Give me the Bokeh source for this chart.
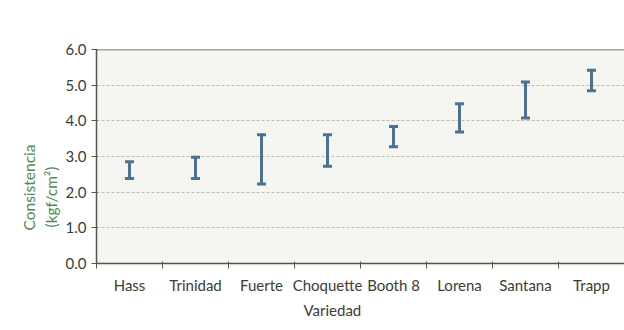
from bokeh.plotting import figure
from bokeh.models import (Range1d, FixedTicker, Whisker, TeeHead, ColumnDataSource,
                          Span, Title)
from bokeh.embed import file_html
from bokeh.resources import INLINE

categories = ["Hass", "Trinidad", "Fuerte", "Choquette", "Booth 8", "Lorena", "Santana", "Trapp"]
lower = [2.38, 2.38, 2.23, 2.73, 3.27, 3.69, 4.08, 4.84]
upper = [2.85, 2.98, 3.61, 3.61, 3.84, 4.48, 5.09, 5.42]
y_ticks = [0, 1, 2, 3, 4, 5, 6]

FONT = "Lato"
BAR = "#4b7193"
AXIS = "#55554d"
GREEN = "#4f8a55"

xs = [i + 0.5 for i in range(len(categories))]
src = ColumnDataSource(dict(x=xs, lower=lower, upper=upper))

p = figure(width=624, height=330, output_backend="svg", toolbar_location=None,
           x_range=Range1d(0, len(categories)), y_range=Range1d(0, 6))
p.min_border_left = 96
p.min_border_right = 0
p.min_border_top = 49
p.min_border_bottom = 67
p.background_fill_color = "#f5f5f1"
p.border_fill_color = "white"
p.outline_line_color = None

# x axis: labels at centers, ticks at category boundaries
p.xaxis.ticker = FixedTicker(ticks=xs, minor_ticks=list(range(0, len(categories) + 1)))
p.xaxis.major_label_overrides = {x: c for x, c in zip(xs, categories)}
p.xaxis.major_tick_line_color = None
p.xaxis.major_tick_out = 0
p.xaxis.major_tick_in = 0
p.xaxis.minor_tick_out = 5
p.xaxis.minor_tick_in = 2
p.xaxis.minor_tick_line_color = AXIS
p.xaxis.axis_line_color = AXIS
p.xaxis.axis_line_width = 1.5
p.xaxis.major_label_standoff = 7
p.xaxis.major_label_text_font = FONT
p.xaxis.major_label_text_font_size = "15px"
p.xaxis.major_label_text_color = "#3c3c38"

p.yaxis.ticker = FixedTicker(ticks=y_ticks, minor_ticks=[])
p.yaxis.major_label_overrides = {t: f"{t:.1f}" for t in y_ticks}
p.yaxis.major_tick_out = 5
p.yaxis.major_tick_in = 1
p.yaxis.major_tick_line_color = AXIS
p.yaxis.axis_line_color = AXIS
p.yaxis.axis_line_width = 1.5
p.yaxis.major_label_standoff = 5
p.yaxis.major_label_text_font = FONT
p.yaxis.major_label_text_font_size = "15px"
p.yaxis.major_label_text_color = "#3c3c38"

p.xgrid.grid_line_color = None
p.ygrid.ticker = FixedTicker(ticks=[1, 2, 3, 4, 5])
p.ygrid.grid_line_color = "#bdbca8"
p.ygrid.grid_line_dash = "3 2"
p.ygrid.grid_line_width = 1

p.add_layout(Span(location=6, dimension="width", line_color=AXIS, line_width=1.5))

w = Whisker(source=src, base="x", lower="lower", upper="upper", dimension="height",
            line_color=BAR, line_width=3,
            lower_head=TeeHead(size=9, line_color=BAR, line_width=3),
            upper_head=TeeHead(size=9, line_color=BAR, line_width=3))
p.add_layout(w)

# axis titles
p.add_layout(Title(text="Variedad", align="left", offset=207, standoff=4,
                   text_font=FONT, text_font_size="15px", text_font_style="normal",
                   text_color="#3c3c38"), "below")
p.add_layout(Title(text="(kgf/cm²)", align="left", offset=36, standoff=5,
                   text_font=FONT, text_font_size="15.5px", text_font_style="normal",
                   text_color=GREEN), "left")
p.add_layout(Title(text="Consistencia", align="left", offset=33, standoff=0,
                   text_font=FONT, text_font_size="15.5px", text_font_style="normal",
                   text_color=GREEN), "left")

open("out.html", "w").write(file_html(p, INLINE))
